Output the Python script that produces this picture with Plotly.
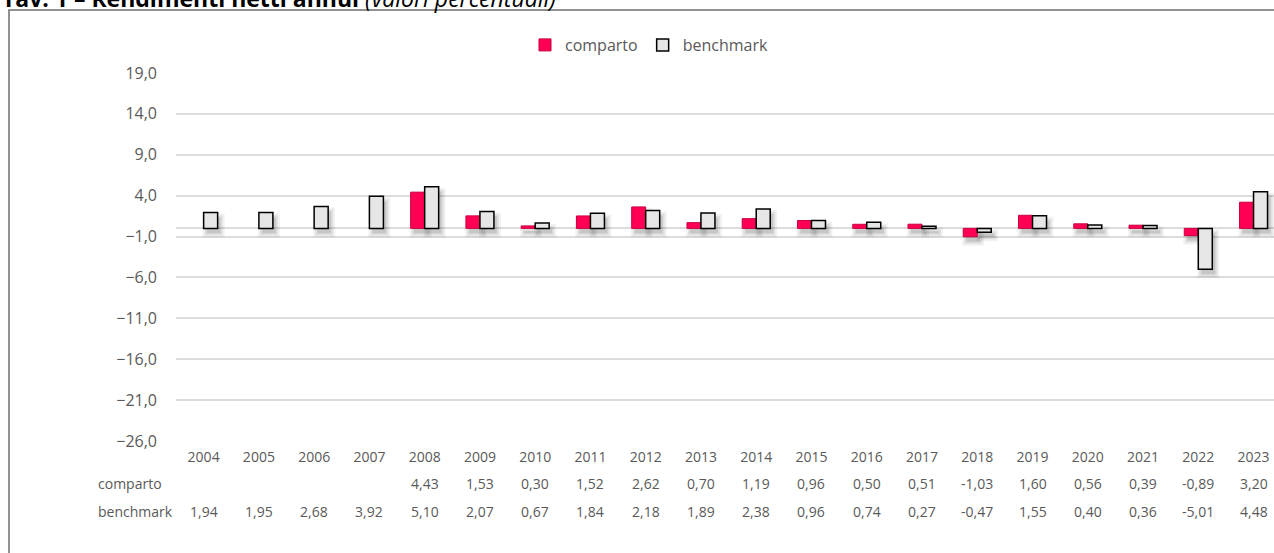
import plotly.graph_objects as go

years = [str(y) for y in range(2004, 2024)]
comparto = [None, None, None, None, 4.43, 1.53, 0.30, 1.52, 2.62, 0.70, 1.19, 0.96,
            0.50, 0.51, -1.03, 1.60, 0.56, 0.39, -0.89, 3.20]
benchmark = [1.94, 1.95, 2.68, 3.92, 5.10, 2.07, 0.67, 1.84, 2.18, 1.89, 2.38, 0.96,
             0.74, 0.27, -0.47, 1.55, 0.40, 0.36, -5.01, 4.48]
y_ticks = [19, 14, 9, 4, -1, -6, -11, -16, -21, -26]

FONT = "Open Sans"
GREY = "#595959"
W, H = 1274, 553
L, R, T, B = 176, 0, 73, 112
PW, PH = W - L - R, H - T - B
X0, X1 = -0.5, 19.37
Y0, Y1 = -26, 19
UX = PW / (X1 - X0)        # px per category
UY = PH / (Y1 - Y0)        # px per value unit
BW = 14 / UX               # bar width in category units

idx = list(range(len(years)))


def fmt(v):
    return "" if v is None else f"{v:.2f}".replace(".", ",")


def px_x(p):
    return (p - L) / PW


def px_y(p):
    return 1 - (p - T) / PH


fig = go.Figure()

# soft drop shadows (derived from the same data), drawn first so they sit behind
for series, off in [(comparto, -BW), (benchmark, 0.0)]:
    for grow, alpha in [(4, 0.05), (2, 0.08), (0, 0.11)]:
        dx, dy = 3 / UX, 5 / UY
        g = grow / UX
        gy = grow / UY
        base = [None if v is None else min(0, v) - dy - gy for v in series]
        hgt = [None if v is None else abs(v) + 2 * gy for v in series]
        fig.add_trace(go.Bar(
            x=idx, y=hgt, base=base, width=BW + 2 * g, offset=off + dx - g,
            marker=dict(color=f"rgba(0,0,0,{alpha})", line=dict(width=0)),
            showlegend=False, hoverinfo="skip"))

fig.add_trace(go.Bar(
    x=idx, y=comparto, name="comparto", width=BW, offset=-BW,
    marker=dict(color="#FF0055", line=dict(color="#C8003C", width=1)),
))
fig.add_trace(go.Bar(
    x=idx, y=benchmark, name="benchmark", width=BW, offset=0,
    marker=dict(color="#E6E6E6", line=dict(color="#000000", width=1.5)),
))

annotations = []
# data table rows
for label, series, ypix in [("comparto", comparto, 483), ("benchmark", benchmark, 511)]:
    annotations.append(dict(
        x=px_x(96), y=px_y(ypix), xref="paper", yref="paper", xanchor="left", yanchor="middle",
        text=label, showarrow=False, font=dict(family=FONT, size=14, color=GREY)))
    for i, v in zip(idx, series):
        annotations.append(dict(
            x=(i - X0) / (X1 - X0), y=px_y(ypix), xref="paper", yref="paper",
            xanchor="center", yanchor="middle",
            text=fmt(v), showarrow=False, font=dict(family=FONT, size=14, color=GREY)))

# title (partially cut at top, as in the source)
annotations.append(dict(
    x=px_x(0), y=px_y(16), xref="paper", yref="paper", xanchor="left", yanchor="bottom",
    text="<b>Tav. 1 – Rendimenti netti annui</b> <i>(valori percentuali)</i>",
    showarrow=False, font=dict(family=FONT, size=23, color="#000000")))

shapes = [dict(
    type="rect", xref="paper", yref="paper",
    x0=px_x(9), x1=px_x(1300), y0=px_y(600), y1=px_y(10),
    line=dict(color="#6E6E6E", width=1.5), fillcolor="rgba(0,0,0,0)", layer="below")]

fig.update_layout(
    width=W, height=H,
    margin=dict(l=L, r=R, t=T, b=B, pad=0),
    paper_bgcolor="white", plot_bgcolor="white",
    separators=",.",
    barmode="overlay",
    font=dict(family=FONT, size=14, color=GREY),
    legend=dict(orientation="h", xref="container", yref="container",
                x=649 / W, y=1 - 45 / H, xanchor="center", yanchor="middle",
                font=dict(family=FONT, size=16, color=GREY), itemwidth=30,
                traceorder="normal"),
    xaxis=dict(range=[X0, X1], tickvals=idx, ticktext=years, showgrid=False, showline=False,
               zeroline=False, ticks="", ticklabelstandoff=6,
               tickfont=dict(family=FONT, size=14, color=GREY), fixedrange=True),
    yaxis=dict(range=[Y0, Y1], tickvals=y_ticks, tickformat=".1f",
               showgrid=True, gridcolor="#DCDCDC", gridwidth=1.5,
               zeroline=True, zerolinecolor="#DCDCDC", zerolinewidth=1.5,
               showline=False, ticks="", ticklabelstandoff=18,
               tickfont=dict(family=FONT, size=16, color=GREY)),
    annotations=annotations,
    shapes=shapes,
    showlegend=True,
)

fig.write_html(
    "out.html",
    config={"displayModeBar": False},
    post_script="document.body.style.margin='0';document.body.style.overflow='hidden';",
)
